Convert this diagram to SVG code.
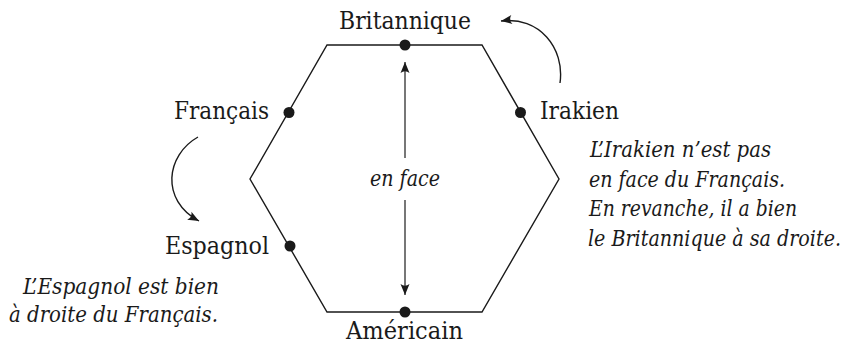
<svg xmlns="http://www.w3.org/2000/svg" width="851" height="347" viewBox="0 0 851 347">
<style>
text{font-family:'DejaVu Serif Condensed','DejaVu Serif',serif;fill:#1a1a1a}
.lbl{font-size:25px}
.it{font-size:21.5px;font-style:italic}
.edge{fill:none;stroke:#1a1a1a;stroke-width:1.4}
.arr{fill:none;stroke:#1a1a1a;stroke-width:1.4;marker-end:url(#ah)}
.varr{fill:none;stroke:#555;stroke-width:1.6;marker-end:url(#ah)}
.dot{fill:#1a1a1a}
</style>
<defs>
<marker id="ah" viewBox="-12 -5 13 10" refX="0" refY="0" markerWidth="13" markerHeight="10" markerUnits="userSpaceOnUse" orient="auto">
<path d="M0,0 L-11,-4.5 Q-7.5,0 -11,4.5 Z" fill="#1a1a1a"/>
</marker>
</defs>
<g id="hexagon">
<path class="edge" d="M327,45 L482,45 L559,179 L482,312 L327,312 L250,179 Z"/>
</g>
<g id="connectors">
<path class="varr" d="M405,158 L405,62"/>
<path class="varr" d="M405,200 L405,295"/>
<path class="arr" d="M560,83 C565,48 539,16 501,21"/>
<path class="arr" d="M198,137 C166,155 160,200 199,221"/>
</g>
<g id="node-britannique">
<circle class="dot" cx="405" cy="45" r="5.5"/>
<text class="lbl" x="339" y="29" textLength="132" lengthAdjust="spacingAndGlyphs">Britannique</text>
</g>
<g id="node-francais">
<circle class="dot" cx="289" cy="112.5" r="5.5"/>
<text class="lbl" x="174" y="119" textLength="95" lengthAdjust="spacingAndGlyphs">Français</text>
</g>
<g id="node-irakien">
<circle class="dot" cx="520.5" cy="112.5" r="5.5"/>
<text class="lbl" x="540" y="119" textLength="79" lengthAdjust="spacingAndGlyphs">Irakien</text>
</g>
<g id="node-espagnol">
<circle class="dot" cx="290" cy="246" r="5.5"/>
<text class="lbl" x="165" y="254" textLength="104" lengthAdjust="spacingAndGlyphs">Espagnol</text>
</g>
<g id="node-americain">
<circle class="dot" cx="405" cy="312" r="5.5"/>
<text class="lbl" x="346" y="339" textLength="117" lengthAdjust="spacingAndGlyphs">Américain</text>
</g>
<g id="label-enface">
<text class="it" x="370" y="186" textLength="70" lengthAdjust="spacingAndGlyphs">en face</text>
</g>
<g id="note-irakien">
<text class="it" x="590" y="157" textLength="181" lengthAdjust="spacingAndGlyphs">L’Irakien n’est pas</text>
<text class="it" x="589" y="186.5" textLength="196" lengthAdjust="spacingAndGlyphs">en face du Français.</text>
<text class="it" x="589" y="216" textLength="208" lengthAdjust="spacingAndGlyphs">En revanche, il a bien</text>
<text class="it" x="588" y="245.5" textLength="253" lengthAdjust="spacingAndGlyphs">le Britannique à sa droite.</text>
</g>
<g id="note-espagnol">
<text class="it" x="23" y="294" textLength="196" lengthAdjust="spacingAndGlyphs">L’Espagnol est bien</text>
<text class="it" x="9" y="322" textLength="209" lengthAdjust="spacingAndGlyphs">à droite du Français.</text>
</g>
</svg>
